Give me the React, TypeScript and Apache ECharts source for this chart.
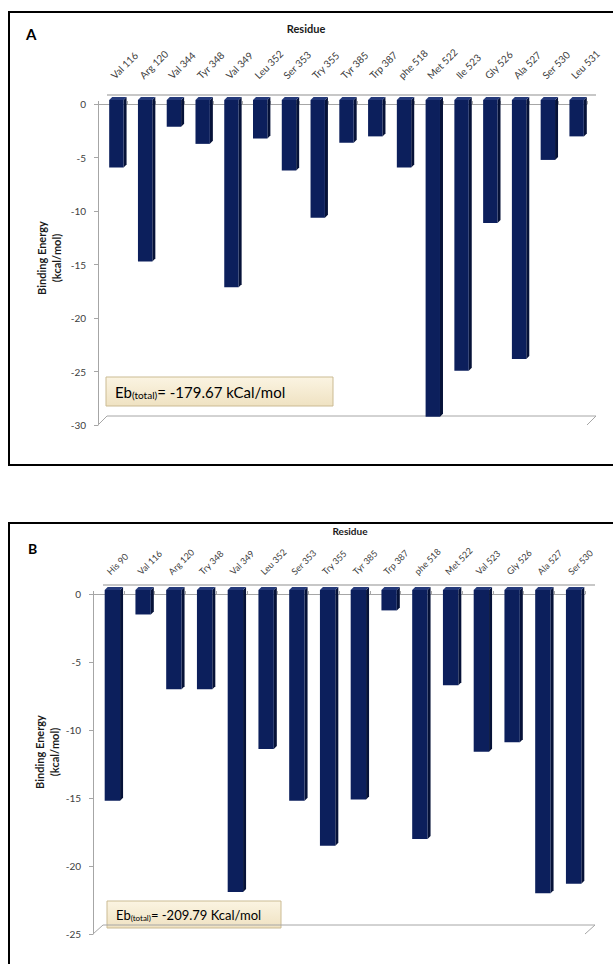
import React, { useEffect, useRef } from "react";
import * as echarts from "echarts";

const catsA = ["Val 116", "Arg 120", "Val 344", "Tyr 348", "Val 349", "Leu 352", "Ser 353", "Try 355", "Tyr 385", "Trp 387", "phe 518", "Met 522", "Ile 523", "Gly 526", "Ala 527", "Ser 530", "Leu 531"];
const valsA = [-6.3, -15.1, -2.5, -4.1, -17.5, -3.6, -6.6, -11.0, -4.0, -3.4, -6.3, -29.6, -25.3, -11.5, -24.2, -5.6, -3.4];
const ticksA = { min: -30, max: 0, interval: 5 };
const totalA = "-179.67 kCal/mol";

const catsB = ["His 90", "Val 116", "Arg 120", "Try 348", "Val 349", "Leu 352", "Ser 353", "Try 355", "Tyr 385", "Trp 387", "phe 518", "Met 522", "Val 523", "Gly 526", "Ala 527", "Ser 530"];
const valsB = [-15.5, -1.8, -7.3, -7.3, -22.2, -11.7, -15.5, -18.8, -15.4, -1.5, -18.3, -7.0, -11.9, -11.2, -22.3, -21.6];
const ticksB = { min: -25, max: 0, interval: 5 };
const totalB = "-209.79 Kcal/mol";

const FONT = "Lato, 'Open Sans', sans-serif";
const FRONT = "#0c1f5c";
const SIDE = "#061238";
const TOP = "#24397a";
const AXIS = "#a6a6a6";

const GA = { left: 98, top: 104, width: 489, height: 321 };
const GB = { left: 93, top: 594, width: 492, height: 340 };

function renderBar(params: any, api: any) {
  const i = api.value(0);
  const v = api.value(1);
  const p0 = api.coord([i, 0]);
  const p1 = api.coord([i, v]);
  const bw = api.size([1, 0])[0] * 0.5;
  const dx = 4, dy = 4, d = 3;
  const x = p0[0] - bw / 2 + dx;
  const yt = p0[1] - dy;
  const yb = p1[1] - dy;
  return {
    type: "group",
    children: [
      { type: "polygon", shape: { points: [[x + bw, yt], [x + bw + d, yt - d], [x + bw + d, yb - d], [x + bw, yb]] }, style: { fill: SIDE } },
      { type: "polygon", shape: { points: [[x, yt], [x + d, yt - d], [x + bw + d, yt - d], [x + bw, yt]] }, style: { fill: TOP } },
      { type: "rect", shape: { x, y: yt, width: bw, height: yb - yt }, style: { fill: FRONT } },
    ],
  };
}

function xAxisFor(gridIndex: number, cats: string[], fs: number, margin: number) {
  return {
    type: "category",
    gridIndex,
    position: "top",
    data: cats,
    boundaryGap: true,
    axisLine: { show: true, lineStyle: { color: AXIS, width: 1 } },
    axisTick: { show: true, interval: 0, length: 3, lineStyle: { color: AXIS } },
    axisLabel: { interval: 0, rotate: 45, fontSize: fs, color: "#404040", fontFamily: FONT, margin },
  };
}

function yAxisFor(gridIndex: number, t: any) {
  return {
    type: "value",
    gridIndex,
    min: t.min,
    max: t.max,
    interval: t.interval,
    axisLine: { show: true, lineStyle: { color: AXIS, width: 1 } },
    axisTick: { show: true, length: 4, lineStyle: { color: AXIS } },
    splitLine: { show: false },
    axisLabel: { fontSize: 10, color: "#404040", fontFamily: FONT, margin: 12 },
  };
}

function floor(g: any, ox: number, oy: number) {
  const l = g.left, r = g.left + g.width, t = g.top, b = g.top + g.height;
  return [
    { type: "polyline", shape: { points: [[l, b], [l + ox, b - oy], [r + ox, b - oy], [r, b]] }, style: { stroke: AXIS, fill: null, lineWidth: 1 }, z: 1 },
    { type: "line", shape: { x1: l + ox, y1: t - oy, x2: r + ox, y2: t - oy }, style: { stroke: "#b5b5b5", lineWidth: 1.5 }, z: 1 },
  ];
}

function totalBox(x: number, y: number, w: number, h: number, total: string, fs: number) {
  return {
    type: "group",
    x,
    y,
    z: 20,
    children: [
      {
        type: "rect",
        shape: { x: 0, y: 0, width: w, height: h },
        style: {
          fill: new echarts.graphic.LinearGradient(0, 0, 0, 1, [
            { offset: 0, color: "#fbf4e2" },
            { offset: 1, color: "#efe2c2" },
          ]),
          stroke: "#cbbb93",
          lineWidth: 1,
        },
      },
      {
        type: "text",
        x: 9,
        y: h / 2,
        style: {
          text: "{a|Eb}{s|(total)}{a|= " + total + "}",
          verticalAlign: "middle",
          rich: {
            a: { fontSize: fs, fontFamily: FONT, color: "#222" },
            s: { fontSize: Math.round(fs * 0.65), fontFamily: FONT, color: "#222", padding: [fs * 0.5, 0, 0, 0] },
          },
        },
      },
    ],
  };
}

function yName(cx: number, cy: number) {
  return {
    type: "text",
    x: cx,
    y: cy,
    rotation: Math.PI / 2,
    style: {
      text: "Binding Energy\n(kcal/mol)",
      align: "center",
      verticalAlign: "middle",
      fontSize: 11,
      lineHeight: 15,
      fontWeight: "bold",
      fontFamily: FONT,
      fill: "#1a1a1a",
    },
  };
}

function topName(cx: number, cy: number, fs: number) {
  return {
    type: "text",
    x: cx,
    y: cy,
    style: { text: "Residue", align: "center", verticalAlign: "middle", fontSize: fs, fontWeight: "bold", fontFamily: FONT, fill: "#1a1a1a" },
  };
}

export default function App() {
  const ref = useRef<HTMLDivElement>(null);
  useEffect(() => {
    document.body.style.margin = "0";
    const chart = echarts.init(ref.current!, undefined, { renderer: "svg" });
    chart.setOption({
      animation: false,
      textStyle: { fontFamily: FONT },
      grid: [
        { ...GA, containLabel: false },
        { ...GB, containLabel: false },
      ],
      xAxis: [xAxisFor(0, catsA, 10, 27), xAxisFor(1, catsB, 9, 21)],
      yAxis: [yAxisFor(0, ticksA), yAxisFor(1, ticksB)],
      series: [
        { type: "custom", xAxisIndex: 0, yAxisIndex: 0, data: catsA.map((c, i) => [i, valsA[i]]), encode: { x: 0, y: 1 }, renderItem: renderBar, clip: false, z: 5 },
        { type: "custom", xAxisIndex: 1, yAxisIndex: 1, data: catsB.map((c, i) => [i, valsB[i]]), encode: { x: 0, y: 1 }, renderItem: renderBar, clip: false, z: 5 },
      ],
      graphic: [
        { type: "rect", shape: { x: 9, y: 12, width: 700, height: 453 }, style: { fill: null, stroke: "#000", lineWidth: 2 } },
        { type: "rect", shape: { x: 9, y: 523, width: 700, height: 500 }, style: { fill: null, stroke: "#000", lineWidth: 2 } },
        { type: "text", x: 26, y: 26, style: { text: "A", fontSize: 15, fontWeight: "bold", fontFamily: FONT, fill: "#000" } },
        { type: "text", x: 28, y: 541, style: { text: "B", fontSize: 14, fontWeight: "bold", fontFamily: FONT, fill: "#000" } },
        topName(306, 28, 11),
        topName(350, 531, 10),
        yName(49, 258),
        yName(47, 752),
        ...floor(GA, 9, 9),
        ...floor(GB, 10, 9),
        totalBox(106, 377, 227, 29, totalA, 15),
        totalBox(107, 901, 174, 27, totalB, 13),
      ],
    });
    return () => chart.dispose();
  }, []);
  return <div ref={ref} style={{ width: 613, height: 964 }} />;
}
